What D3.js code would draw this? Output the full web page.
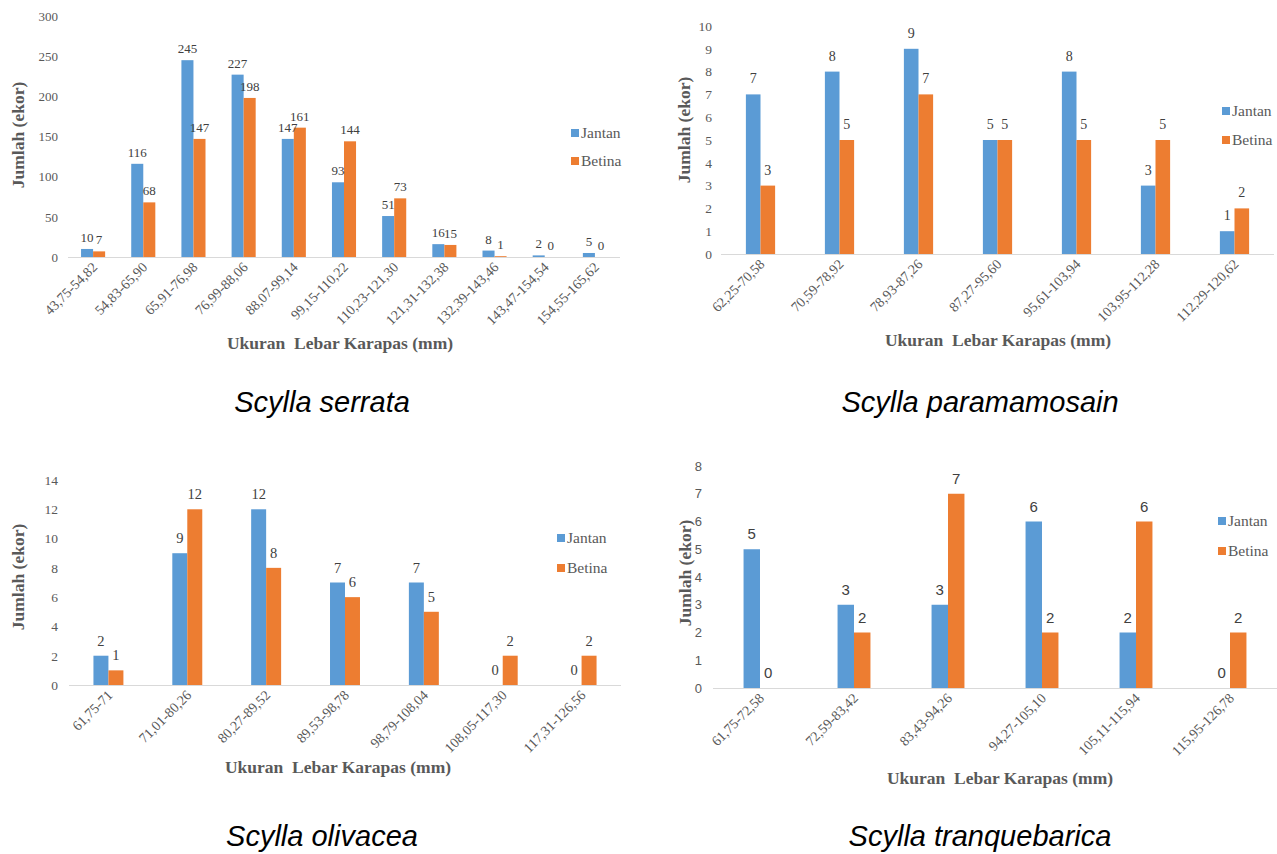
<!DOCTYPE html>
<html>
<head>
<meta charset="utf-8">
<script src="https://cdn.jsdelivr.net/npm/d3@7/dist/d3.min.js"></script>
<style>
  html, body { margin: 0; padding: 0; background: #ffffff; }
  svg { display: block; }
  text { white-space: pre; }
</style>
</head>
<body>
<svg id="chart" width="1277" height="854"></svg>
<script>
// ---- Data: carapace-width classes and counts (ekor) per sex ----
const seriesNames = ["Jantan", "Betina"];
const seriesColors = ["#5B9BD5", "#ED7D31"];

const serrataCategories = ["43,75-54,82", "54,83-65,90", "65,91-76,98", "76,99-88,06", "88,07-99,14",
  "99,15-110,22", "110,23-121,30", "121,31-132,38", "132,39-143,46", "143,47-154,54", "154,55-165,62"];
const serrataJantan = [10, 116, 245, 227, 147, 93, 51, 16, 8, 2, 5];
const serrataBetina = [7, 68, 147, 198, 161, 144, 73, 15, 1, 0, 0];
const serrataTicks = [0, 50, 100, 150, 200, 250, 300];

const paramamosainCategories = ["62,25-70,58", "70,59-78,92", "78,93-87,26", "87,27-95,60",
  "95,61-103,94", "103,95-112,28", "112,29-120,62"];
const paramamosainJantan = [7, 8, 9, 5, 8, 3, 1];
const paramamosainBetina = [3, 5, 7, 5, 5, 5, 2];
const paramamosainTicks = [0, 1, 2, 3, 4, 5, 6, 7, 8, 9, 10];

const olivaceaCategories = ["61,75-71", "71,01-80,26", "80,27-89,52", "89,53-98,78",
  "98,79-108,04", "108,05-117,30", "117,31-126,56"];
const olivaceaJantan = [2, 9, 12, 7, 7, 0, 0];
const olivaceaBetina = [1, 12, 8, 6, 5, 2, 2];
const olivaceaTicks = [0, 2, 4, 6, 8, 10, 12, 14];

const tranquebaricaCategories = ["61,75-72,58", "72,59-83,42", "83,43-94,26", "94,27-105,10",
  "105,11-115,94", "115,95-126,78"];
const tranquebaricaJantan = [5, 3, 3, 6, 2, 0];
const tranquebaricaBetina = [0, 2, 7, 2, 6, 2];
const tranquebaricaTicks = [0, 1, 2, 3, 4, 5, 6, 7, 8];

const xTitle = "Ukuran  Lebar Karapas (mm)";
const yTitle = "Jumlah (ekor)";

// ---- Panel layout ----
const SERIF = "'Liberation Serif', 'Times New Roman', serif";
const SANS = "'Liberation Sans', Arial, sans-serif";

const panels = [
  {
    species: "Scylla serrata", categories: serrataCategories, values: [serrataJantan, serrataBetina],
    ticks: serrataTicks, x0: 68, x1: 620, yBase: 257, yTop: 16, pad: 0.52,
    tickX: 58, tickFont: SERIF, tickSize: 13, labelFont: SERIF, labelSize: 13, labelGap: 7,
    catSize: 14, legendX: 571, legendY: [133, 161],
    yTitleAt: [18, 135], xTitleAt: [340, 349], speciesAt: [322, 412]
  },
  {
    species: "Scylla paramamosain", categories: paramamosainCategories, values: [paramamosainJantan, paramamosainBetina],
    ticks: paramamosainTicks, x0: 721, x1: 1274, yBase: 254, yTop: 26, pad: 0.63,
    tickX: 712, tickFont: SERIF, tickSize: 13.5, labelFont: SERIF, labelSize: 14, labelGap: 11,
    catSize: 14, legendX: 1222, legendY: [111, 140],
    yTitleAt: [684, 130], xTitleAt: [998, 346], speciesAt: [980, 412]
  },
  {
    species: "Scylla olivacea", categories: olivaceaCategories, values: [olivaceaJantan, olivaceaBetina],
    ticks: olivaceaTicks, x0: 69, x1: 621, yBase: 685, yTop: 480, pad: 0.62,
    tickX: 58, tickFont: SERIF, tickSize: 13.5, labelFont: SERIF, labelSize: 14.5, labelGap: 10,
    catSize: 14, legendX: 557, legendY: [538, 568],
    yTitleAt: [18, 577], xTitleAt: [338, 773], speciesAt: [322, 846]
  },
  {
    species: "Scylla tranquebarica", categories: tranquebaricaCategories, values: [tranquebaricaJantan, tranquebaricaBetina],
    ticks: tranquebaricaTicks, x0: 713, x1: 1277, yBase: 688, yTop: 466, pad: 0.65,
    tickX: 702, tickFont: SANS, tickSize: 13, labelFont: SANS, labelSize: 15, labelGap: 10,
    catSize: 14, legendX: 1218, legendY: [521, 551],
    yTitleAt: [685, 573], xTitleAt: [1000, 784], speciesAt: [980, 846]
  }
];

const svg = d3.select("#chart");
svg.append("rect").attr("width", 1277).attr("height", 854).attr("fill", "#ffffff");

function drawPanel(p) {
  const g = svg.append("g");
  const maxTick = p.ticks[p.ticks.length - 1];

  const x = d3.scaleBand()
    .domain(p.categories)
    .range([p.x0, p.x1])
    .paddingInner(p.pad)
    .paddingOuter(p.pad / 2);

  const xSub = d3.scaleBand()
    .domain(seriesNames)
    .range([0, x.bandwidth()]);

  const y = d3.scaleLinear()
    .domain([0, maxTick])
    .range([p.yBase, p.yTop]);

  // value axis: labels only
  const yAxis = g.append("g")
    .attr("transform", `translate(${p.tickX},0)`)
    .call(d3.axisLeft(y).tickValues(p.ticks).tickSize(0).tickPadding(0));
  yAxis.select(".domain").remove();
  yAxis.selectAll("text")
    .attr("font-family", p.tickFont)
    .attr("font-size", p.tickSize)
    .attr("fill", "#595959");

  // bars
  const rows = p.categories.map((c, i) => ({ cat: c, vals: seriesNames.map((s, k) => ({ s, k, v: p.values[k][i] })) }));
  const groups = g.selectAll("g.cluster").data(rows).enter().append("g")
    .attr("class", "cluster")
    .attr("transform", d => `translate(${x(d.cat)},0)`);

  groups.selectAll("rect").data(d => d.vals).enter().append("rect")
    .attr("x", d => xSub(d.s))
    .attr("width", xSub.bandwidth())
    .attr("y", d => y(d.v))
    .attr("height", d => y(0) - y(d.v))
    .attr("fill", d => seriesColors[d.k]);

  // value labels above bars
  groups.selectAll("text").data(d => d.vals).enter().append("text")
    .attr("x", d => xSub(d.s) + xSub.bandwidth() / 2)
    .attr("y", d => y(d.v) - p.labelGap)
    .attr("text-anchor", "middle")
    .attr("font-family", p.labelFont)
    .attr("font-size", p.labelSize)
    .attr("fill", "#404040")
    .text(d => d.v);

  // category axis
  const xAxis = g.append("g")
    .attr("transform", `translate(0,${p.yBase})`)
    .call(d3.axisBottom(x).tickSize(0).tickPadding(0));
  xAxis.select(".domain")
    .attr("d", `M${p.x0},0.5H${p.x1}`)
    .attr("stroke", "#d9d9d9")
    .attr("stroke-width", 1.2);
  xAxis.selectAll(".tick text")
    .attr("font-family", SERIF)
    .attr("font-size", p.catSize)
    .attr("fill", "#595959")
    .attr("text-anchor", "end")
    .attr("dy", 0)
    .attr("y", 0)
    .attr("transform", "translate(5,11) rotate(-45)");

  // axis titles
  g.append("text")
    .attr("transform", `translate(${p.yTitleAt[0] + 6},${p.yTitleAt[1]}) rotate(-90)`)
    .attr("text-anchor", "middle")
    .attr("font-family", SERIF)
    .attr("font-weight", "bold")
    .attr("font-size", 17.5)
    .attr("fill", "#595959")
    .text(yTitle);

  g.append("text")
    .attr("x", p.xTitleAt[0])
    .attr("y", p.xTitleAt[1])
    .attr("text-anchor", "middle")
    .attr("font-family", SERIF)
    .attr("font-weight", "bold")
    .attr("font-size", 17.5)
    .attr("fill", "#595959")
    .text(xTitle);

  // legend
  const leg = g.selectAll("g.legend").data(seriesNames).enter().append("g")
    .attr("class", "legend")
    .attr("transform", (d, i) => `translate(${p.legendX},${p.legendY[i]})`);
  leg.append("rect")
    .attr("x", 0).attr("y", -4)
    .attr("width", 8).attr("height", 8)
    .attr("fill", (d, i) => seriesColors[i]);
  leg.append("text")
    .attr("x", 10).attr("y", 5)
    .attr("font-family", SERIF)
    .attr("font-size", 15.5)
    .attr("fill", "#595959")
    .text(d => d);

  // species caption
  g.append("text")
    .attr("x", p.speciesAt[0])
    .attr("y", p.speciesAt[1])
    .attr("text-anchor", "middle")
    .attr("font-family", SANS)
    .attr("font-style", "italic")
    .attr("font-size", 29)
    .attr("fill", "#000000")
    .text(p.species);
}

panels.forEach(drawPanel);
</script>
</body>
</html>
